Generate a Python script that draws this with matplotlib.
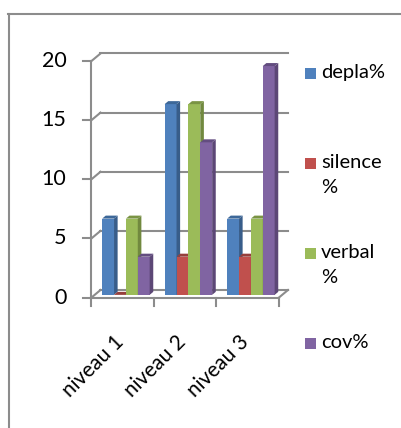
import numpy as np
import matplotlib
matplotlib.use("Agg")
import matplotlib.pyplot as plt
from matplotlib.patches import Polygon, Rectangle
from matplotlib.lines import Line2D

# données (n = 31)
categories = ["niveau 1", "niveau 2", "niveau 3"]
series = ["depla%", "silence\n%", "verbal\n%", "cov%"]
depla = [6.45, 16.13, 6.45]
silence = [0.0, 3.23, 3.23]
verbal = [6.45, 16.13, 6.45]
cov = [3.23, 12.9, 19.35]
y_ticks = [0, 5, 10, 15, 20]

front_cols = ["#4F81BD", "#C0504D", "#9BBB59", "#8064A2"]
side_cols = ["#385D8A", "#8C3A38", "#71893F", "#5C4776"]
top_cols = ["#3D6899", "#963F3C", "#7A9444", "#634D80"]
grid_col = "#8C8C8C"

W, H, DPI = 402, 428, 100
fig = plt.figure(figsize=(W / DPI, H / DPI), dpi=DPI)
plt.rcParams["font.family"] = ["Lato", "DejaVu Sans"]

# plan avant de l'axe, en pixels (origine en haut)
x_left, x_right = 91.5, 279.0
y_top, y_bot = 61.0, 297.5
ax = fig.add_axes([x_left / W, 1 - y_bot / H, (x_right - x_left) / W, (y_bot - y_top) / H])
ax.set_xlim(0, len(categories))
ax.set_ylim(0, 20)
ax.axis("off")

ppx = (x_right - x_left) / len(categories)   # px par unité x
ppy = (y_bot - y_top) / 20.0                 # px par unité y

# profondeur 3D (mur du fond)
ddx, ddy = 9.0 / ppx, 7.5 / ppy
lw = 1.5

# murs : quadrillage
for t in y_ticks:
    ax.add_line(Line2D([ddx, len(categories) + ddx], [t + ddy, t + ddy], color=grid_col, lw=lw, clip_on=False, zorder=1))
    ax.add_line(Line2D([0, ddx], [t, t + ddy], color=grid_col, lw=lw, clip_on=False, zorder=1))
    ax.add_line(Line2D([-8 / ppx, 0], [t, t], color=grid_col, lw=lw, clip_on=False, zorder=1))
    ax.text(-25 / ppx, t, str(t), ha="right", va="center", fontsize=15.5, color="black")
ax.add_line(Line2D([0, 0], [0, 20], color=grid_col, lw=lw, clip_on=False, zorder=1))
ax.add_line(Line2D([len(categories), len(categories) + ddx], [0, ddy], color=grid_col, lw=lw, clip_on=False, zorder=1))

# barres
data = [depla, silence, verbal, cov]
bw = 0.19
start = (1 - bw * len(data)) / 2
f0, f1 = 0.35, 0.75
ox0, oy0 = ddx * f0, ddy * f0
dxb, dyb = ddx * (f1 - f0), ddy * (f1 - f0)
z = 2
for i in range(len(categories)):
    for k, vals in enumerate(data):
        x0 = i + start + k * bw + ox0
        v = vals[i]
        ax.bar(x0, v, width=bw, bottom=oy0, align="edge", color=front_cols[k], lw=0, clip_on=False, zorder=z)
        top = oy0 + v
        side = [(x0 + bw, oy0), (x0 + bw + dxb, oy0 + dyb), (x0 + bw + dxb, top + dyb), (x0 + bw, top)]
        ax.add_patch(Polygon(side, closed=True, fc=side_cols[k], lw=0, clip_on=False, zorder=z))
        tp = [(x0, top), (x0 + dxb, top + dyb), (x0 + bw + dxb, top + dyb), (x0 + bw, top)]
        ax.add_patch(Polygon(tp, closed=True, fc=top_cols[k], lw=0, clip_on=False, zorder=z))
        z += 1

# sol avant et graduations des catégories
ax.add_line(Line2D([0, len(categories)], [0, 0], color=grid_col, lw=lw, clip_on=False, zorder=z + 1))
for i in range(len(categories) + 1):
    ax.add_line(Line2D([i, i], [0, -8 / ppy], color=grid_col, lw=lw, clip_on=False, zorder=z + 1))
for i, c in enumerate(categories):
    ax.text(i + 0.5 + 5 / ppx, -34 / ppy, c, rotation=45, ha="right", va="top", fontsize=15, color="black")

# légende
leg_y = [68, 158, 248, 338]
for k, lab in enumerate(series):
    fig.add_artist(Rectangle((305 / W, 1 - (leg_y[k] + 11) / H), 11 / W, 11 / H, transform=fig.transFigure,
                             fc=front_cols[k], lw=0))
    fig.text(321 / W, 1 - (leg_y[k] - 4) / H, lab, ha="left", va="top", fontsize=14.5, linespacing=1.6)

# cadre extérieur
fig.add_artist(Line2D([8 / W, 1], [1 - 13.5 / H, 1 - 13.5 / H], transform=fig.transFigure, color=grid_col, lw=1.5))
fig.add_artist(Line2D([9 / W, 9 / W], [0, 1 - 13.5 / H], transform=fig.transFigure, color=grid_col, lw=1.5))

fig.savefig("out.png", dpi=DPI)
